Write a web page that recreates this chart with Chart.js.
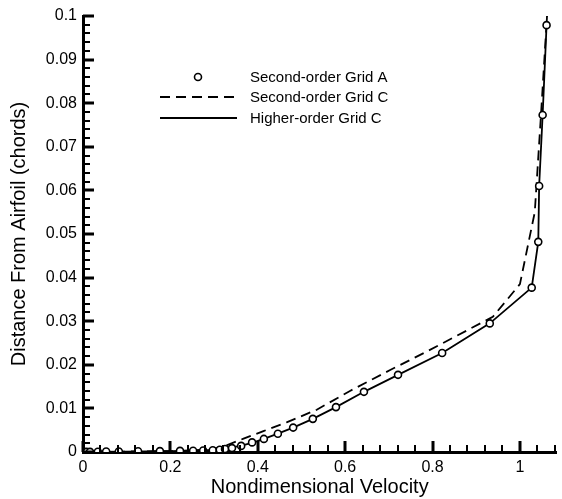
<!DOCTYPE html>
<html>
<head>
<meta charset="utf-8">
<script src="https://cdn.jsdelivr.net/npm/chart.js@4.4.1/dist/chart.umd.min.js"></script>
<style>
  html, body { margin: 0; padding: 0; background: #fff; }
  #wrap { width: 562px; height: 499px; position: relative; }
</style>
</head>
<body>
<div id="wrap"><canvas id="chart"></canvas></div>
<script>
// Second-order Grid A (circles)
const velocityA = [0, 0.004, 0.008, 0.016, 0.034, 0.053, 0.082, 0.126, 0.176, 0.222, 0.252, 0.275, 0.297,
  0.313, 0.325, 0.341, 0.362, 0.387, 0.414, 0.446, 0.481, 0.526, 0.579, 0.643, 0.721, 0.822, 0.931,
  1.027, 1.042, 1.044, 1.052, 1.061];
const distanceA = [0, 0.00001, 0.00002, 0.00004, 0.00007, 0.0001, 0.00013, 0.00017, 0.0002, 0.00025, 0.0003,
  0.00035, 0.0004, 0.0005, 0.0007, 0.0009, 0.0014, 0.0022, 0.003, 0.0042, 0.0056, 0.0076, 0.0103, 0.0138,
  0.0177, 0.0227, 0.0295, 0.0377, 0.0482, 0.061, 0.0773, 0.0979];

// Second-order Grid C (dashed)
const velocityC2 = [0, 0.1, 0.2, 0.26, 0.3, 0.33, 0.366, 0.413, 0.466, 0.535, 0.611, 0.703, 0.786, 0.938, 1.0, 1.034, 1.048, 1.062];
const distanceC2 = [0, 0.0001, 0.0002, 0.0004, 0.0008, 0.0016, 0.003, 0.0048, 0.0068, 0.0097, 0.0140, 0.0188, 0.0230, 0.0310, 0.0385, 0.0550, 0.0770, 0.1];

// Higher-order Grid C (solid)
const velocityH = [0, 0.1, 0.2, 0.26, 0.3, 0.33, 0.36, 0.387, 0.414, 0.446, 0.481, 0.526, 0.579, 0.643, 0.721, 0.822, 0.931, 1.027, 1.042, 1.044, 1.052, 1.061, 1.062];
const distanceH = [0, 0.0001, 0.0002, 0.0003, 0.0005, 0.0009, 0.0014, 0.0021, 0.003, 0.0042, 0.0056, 0.0076, 0.0103, 0.0138, 0.0177, 0.0227, 0.0295, 0.0377, 0.0482, 0.061, 0.0773, 0.0979, 0.1];

const seriesLabels = ['Second-order Grid A', 'Second-order Grid C', 'Higher-order Grid C'];

const xMajor = [0, 0.2, 0.4, 0.6, 0.8, 1];
const yMajor = [0, 0.01, 0.02, 0.03, 0.04, 0.05, 0.06, 0.07, 0.08, 0.09, 0.1];
const xTickStep = 0.04, yTickStep = 0.002;

const pts = (xs, ys) => xs.map((x, i) => ({x: x, y: ys[i]}));
const isMajor = (v, list) => list.some(m => Math.abs(m - v) < 1e-9);
const tickValues = (max, step) => {
  const out = [];
  for (let v = 0; v <= max + 1e-9; v += step) out.push(+v.toFixed(4));
  return out;
};
const xTicks = tickValues(1.08, xTickStep);
const yTicks = tickValues(0.1, yTickStep);

// inward tick marks + legend in the upper left of the plot
const decorations = {
  id: 'decorations',
  afterDraw(chart) {
    const ctx = chart.ctx, area = chart.chartArea;
    const sx = chart.scales.x, sy = chart.scales.y;
    ctx.save();
    ctx.fillStyle = 'rgb(0,0,0)';
    xTicks.forEach(v => {
      const major = isMajor(v, xMajor);
      const p = Math.round(sx.getPixelForValue(v));
      const w = major ? 3 : 2, len = major ? 11 : 7;
      ctx.fillRect(p - w / 2, area.bottom - len, w, len);
    });
    yTicks.forEach(v => {
      const major = isMajor(v, yMajor);
      const p = Math.round(sy.getPixelForValue(v));
      const w = major ? 3 : 2, len = major ? 11 : 7;
      ctx.fillRect(area.left, p - w / 2, len, w);
    });

    const rows = [77, 97, 118];
    ctx.font = '15px "Liberation Sans", Arial, sans-serif';
    ctx.textBaseline = 'middle';
    chart.data.datasets.forEach((ds, i) => {
      const y = rows[i];
      ctx.strokeStyle = '#000';
      if (i === 0) {
        ctx.lineWidth = 1.6;
        ctx.fillStyle = '#fff';
        ctx.beginPath(); ctx.arc(198, y, 3.5, 0, Math.PI * 2); ctx.fill(); ctx.stroke();
      } else {
        ctx.lineWidth = ds.borderWidth;
        ctx.setLineDash(ds.borderDash || []);
        ctx.beginPath(); ctx.moveTo(160, y); ctx.lineTo(237, y); ctx.stroke();
        ctx.setLineDash([]);
      }
      ctx.fillStyle = '#000';
      ctx.fillText(ds.label, 250, y + 1);
    });
    ctx.restore();
  }
};

const fontFamily = '"Liberation Sans", Arial, sans-serif';

new Chart(document.getElementById('chart'), {
  type: 'scatter',
  data: {
    datasets: [
      {
        label: seriesLabels[0],
        data: pts(velocityA, distanceA),
        showLine: false,
        pointStyle: 'circle',
        pointRadius: 3.5,
        pointBorderWidth: 1.6,
        pointBorderColor: '#000',
        pointBackgroundColor: '#fff'
      },
      {
        label: seriesLabels[1],
        data: pts(velocityC2, distanceC2),
        showLine: true,
        borderColor: '#000',
        borderWidth: 1.8,
        borderDash: [10, 6],
        pointRadius: 0,
        tension: 0
      },
      {
        label: seriesLabels[2],
        data: pts(velocityH, distanceH),
        showLine: true,
        borderColor: '#000',
        borderWidth: 1.8,
        pointRadius: 0,
        tension: 0
      }
    ]
  },
  options: {
    responsive: true,
    maintainAspectRatio: false,
    animation: false,
    layout: { padding: { top: 16, right: 1, left: 0, bottom: 0 } },
    plugins: { legend: { display: false }, tooltip: { enabled: false } },
    scales: {
      x: {
        type: 'linear',
        min: 0,
        max: 1.0835,
        grid: { display: false },
        border: { display: true, width: 3, color: '#000' },
        afterBuildTicks: s => { s.ticks = xMajor.map(v => ({ value: v })); },
        afterFit: s => { s.height = 47; },
        ticks: {
          autoSkip: false,
          maxRotation: 0,
          padding: -2,
          color: '#000',
          font: { family: fontFamily, size: 16 },
          callback: v => String(+v.toFixed(1))
        },
        title: {
          display: true,
          text: 'Nondimensional Velocity',
          color: '#000',
          padding: { top: 0, bottom: 0 },
          font: { family: fontFamily, size: 20 }
        }
      },
      y: {
        type: 'linear',
        min: 0,
        max: 0.1,
        grid: { display: false },
        border: { display: true, width: 3, color: '#000' },
        afterBuildTicks: s => { s.ticks = yMajor.map(v => ({ value: v })); },
        afterFit: s => { s.width = 83; },
        ticks: {
          autoSkip: false,
          padding: -2,
          color: '#000',
          font: { family: fontFamily, size: 16 },
          callback: v => String(+v.toFixed(2))
        },
        title: {
          display: true,
          text: 'Distance From Airfoil (chords)',
          color: '#000',
          padding: { top: 7, bottom: 0 },
          font: { family: fontFamily, size: 20 }
        }
      }
    }
  },
  plugins: [decorations]
});
</script>
</body>
</html>
